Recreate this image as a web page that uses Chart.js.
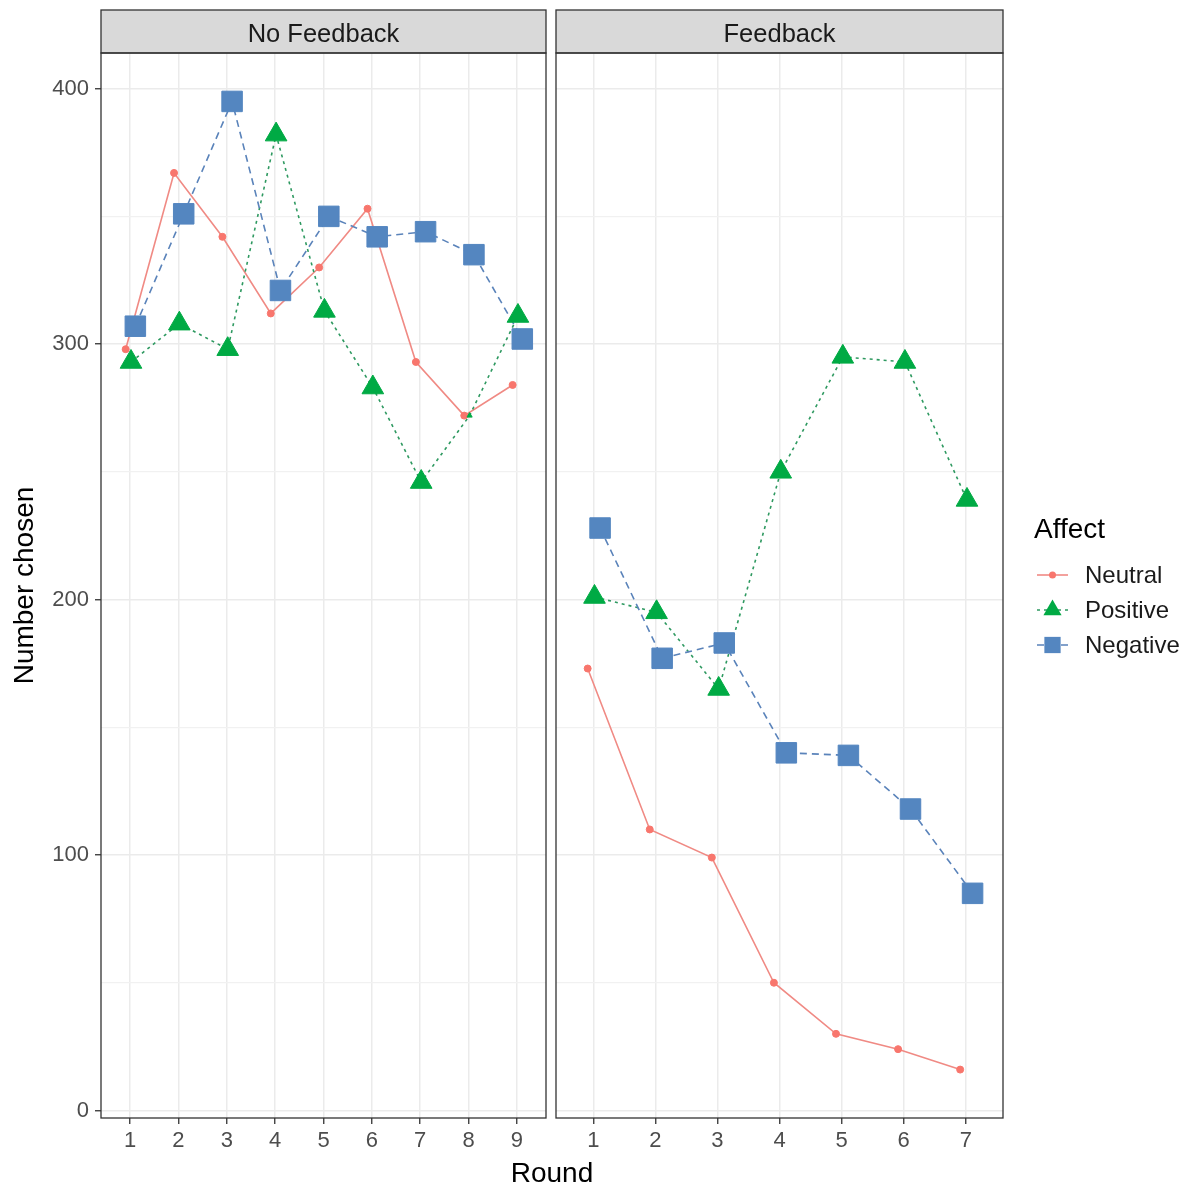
<!DOCTYPE html>
<html><head><meta charset="utf-8">
<script src="https://cdn.jsdelivr.net/npm/chart.js@4/dist/chart.umd.min.js"></script>
<style>
html,body{margin:0;padding:0;background:#fff;}
#wrap{position:relative;width:1186px;height:1185px;overflow:hidden;font-family:"Liberation Sans",Arial,sans-serif;}
#c1{position:absolute;left:0;top:0;}
#c2{position:absolute;left:552px;top:0;}
#xt{position:absolute;left:0;width:1104px;text-align:center;top:1159px;font-size:28px;line-height:28px;color:#000;}
</style></head>
<body><div id="wrap">
<canvas id="c1" width="552" height="1185"></canvas>
<canvas id="c2" width="634" height="1185"></canvas>
<div id="xt">Round</div>
</div>
<script>
// ---- data ----
const affects = ['Neutral', 'Positive', 'Negative'];
const panels = ['No Feedback', 'Feedback'];
const roundsNoFeedback = [1, 2, 3, 4, 5, 6, 7, 8, 9];
const roundsFeedback = [1, 2, 3, 4, 5, 6, 7];
const noFbNeutral  = [298, 367, 342, 312, 330, 353, 293, 272, 284];
const noFbPositive = [293, 308, 298, 382, 313, 283, 246, 272, 311];
const noFbNegative = [307, 351, 395, 321, 350, 342, 344, 335, 302];
const fbNeutral  = [173, 110, 99, 50, 30, 24, 16];
const fbPositive = [201, 195, 165, 250, 295, 293, 239];
const fbNegative = [228, 177, 183, 140, 139, 118, 85];
const yTickValues = [0, 100, 200, 300, 400];

// ---- styles ----
const FONT = '"Liberation Sans", Arial, sans-serif';
const style = {
  Neutral:  {point: '#F8766D', line: '#F08A84', dash: [], shape: 'circle', r: 3.5, lr: 3.5, dodge: -0.09},
  Positive: {point: '#00AA44', line: '#2E9960', dash: [3, 4], shape: 'triangle', r: 12.5, lr: 10.5, dodge: 0.02},
  Negative: {point: '#5486C0', line: '#5A83BA', dash: [7, 5], shape: 'rect', r: 14.5, lr: 11.5, dodge: 0.11}
};

const all = [].concat(noFbNeutral, noFbPositive, noFbNegative, fbNeutral, fbPositive, fbNegative);
const lo = Math.min(...all), hi = Math.max(...all);
const pad = 0.05 * (hi - lo);
const yMin = lo - pad, yMax = hi + pad;

function series(rounds, values, affect) {
  return rounds.map((r, i) => ({x: r + style[affect].dodge, y: values[i]}));
}

function buildDatasets(rounds, sets, isLeft) {
  const ds = [];
  affects.forEach((a, k) => {
    const s = style[a];
    ds.push({
      label: a + ' line', data: series(rounds, sets[k], a),
      borderColor: s.line, borderWidth: 1.6, borderDash: s.dash,
      pointRadius: 0, pointHoverRadius: 0, tension: 0, order: 6 - k
    });
  });
  affects.forEach((a, k) => {
    const s = style[a];
    ds.push({
      label: a, data: series(rounds, sets[k], a), showLine: false,
      backgroundColor: s.point, borderColor: s.point, pointBackgroundColor: s.point,
      pointBorderColor: s.point, pointBorderWidth: 1, pointStyle: s.shape,
      pointRadius: (ctx) => (isLeft && a === 'Positive' && ctx.dataIndex === 7) ? 3 : s.r,
      order: 3 - k
    });
  });
  return ds;
}

const panelPlugin = {
  id: 'panel',
  afterDraw(chart, args, opts) {
    const {ctx, chartArea: ca} = chart;
    ctx.save();
    ctx.fillStyle = '#D9D9D9';
    ctx.fillRect(ca.left, 10, ca.right - ca.left, ca.top - 10);
    ctx.strokeStyle = '#333333';
    ctx.lineWidth = 1.3;
    ctx.strokeRect(ca.left, 10, ca.right - ca.left, ca.top - 10);
    ctx.fillStyle = '#1A1A1A';
    ctx.font = '25.5px ' + FONT;
    ctx.textAlign = 'center';
    ctx.textBaseline = 'middle';
    ctx.fillText(opts.title, (ca.left + ca.right) / 2, 35);
    ctx.strokeRect(ca.left, ca.top, ca.right - ca.left, ca.bottom - ca.top);
    ctx.restore();
  }
};

function drawShape(ctx, shape, x, y, r, color) {
  ctx.fillStyle = color;
  ctx.beginPath();
  if (shape === 'circle') {
    ctx.arc(x, y, r, 0, Math.PI * 2);
  } else if (shape === 'triangle') {
    for (let i = 0; i < 3; i++) {
      const a = i * 2 * Math.PI / 3;
      const px = x + Math.sin(a) * r, py = y - Math.cos(a) * r;
      if (i === 0) ctx.moveTo(px, py); else ctx.lineTo(px, py);
    }
    ctx.closePath();
  } else {
    const s = Math.SQRT1_2 * r;
    ctx.rect(x - s, y - s, 2 * s, 2 * s);
  }
  ctx.fill();
}

const legendPlugin = {
  id: 'affectLegend',
  afterDraw(chart, args, opts) {
    const ctx = chart.ctx;
    const ox = opts.x, oy = opts.y;
    ctx.save();
    ctx.fillStyle = '#000';
    ctx.font = '28px ' + FONT;
    ctx.textBaseline = 'middle';
    ctx.textAlign = 'left';
    ctx.fillText('Affect', ox - 3, oy);
    affects.forEach((a, i) => {
      const s = style[a];
      const y = oy + 45 + 35 * i;
      ctx.strokeStyle = s.line;
      ctx.lineWidth = 1.6;
      ctx.setLineDash(s.dash);
      ctx.beginPath();
      ctx.moveTo(ox, y); ctx.lineTo(ox + 31, y); ctx.stroke();
      ctx.setLineDash([]);
      drawShape(ctx, s.shape, ox + 15.5, y, s.lr, s.point);
      ctx.fillStyle = '#1A1A1A';
      ctx.font = '24px ' + FONT;
      ctx.fillText(a, ox + 48, y + 1);
    });
    ctx.restore();
  }
};

function makeChart(canvasId, rounds, sets, isLeft) {
  const nCat = rounds.length;
  return new Chart(document.getElementById(canvasId), {
    type: 'line',
    data: {datasets: buildDatasets(rounds, sets, isLeft)},
    plugins: isLeft ? [panelPlugin] : [panelPlugin, legendPlugin],
    options: {
      responsive: false,
      animation: false,
      events: [],
      layout: {autoPadding: false,
               padding: isLeft ? {left: 0, right: 6, top: 53, bottom: 0} : {left: 4, right: 183, top: 53, bottom: 0}},
      plugins: {
        legend: {display: false},
        tooltip: {enabled: false},
        panel: {title: isLeft ? panels[0] : panels[1]},
        affectLegend: {x: 1037 - 552, y: 530}
      },
      scales: {
        x: {
          type: 'linear', min: 0.4, max: nCat + 0.6,
          afterFit(scale) { scale.height = 67; scale.paddingLeft = 0; scale.paddingRight = 0; },
          afterBuildTicks(scale) { scale.ticks = rounds.map(r => ({value: r})); },
          ticks: {stepSize: 1, includeBounds: false, autoSkip: false, maxRotation: 0,
                  color: '#4D4D4D', font: {family: FONT, size: 22}, padding: 4,
                  callback: v => String(v)},
          grid: {color: '#EBEBEB', lineWidth: 1.5, tickColor: '#333333', tickWidth: 1.3, tickLength: 6},
          border: {display: false}
        },
        y: {
          type: 'linear', min: yMin, max: yMax,
          afterFit(scale) { scale.width = isLeft ? 101 : 0; scale.paddingTop = 0; scale.paddingBottom = 0; },
          afterBuildTicks(scale) {
            const t = [];
            for (let v = yTickValues[0]; v <= yTickValues[yTickValues.length - 1]; v += 50) t.push({value: v});
            scale.ticks = t;
          },
          ticks: {display: isLeft, autoSkip: false, color: '#4D4D4D', font: {family: FONT, size: 22}, padding: 6,
                  callback: v => yTickValues.includes(v) ? String(v) : ''},
          title: {display: isLeft, text: 'Number chosen', color: '#000', font: {family: FONT, size: 28}, padding: {top: 8, bottom: 0}},
          grid: {
            color: c => yTickValues.includes(c.tick.value) ? '#EBEBEB' : '#F1F1F1',
            lineWidth: c => yTickValues.includes(c.tick.value) ? 1.5 : 1.3,
            tickColor: c => yTickValues.includes(c.tick.value) ? '#333333' : 'rgba(0,0,0,0)',
            tickWidth: 1.3, tickLength: 6, drawTicks: isLeft
          },
          border: {display: false}
        }
      }
    }
  });
}

makeChart('c1', roundsNoFeedback, [noFbNeutral, noFbPositive, noFbNegative], true);
makeChart('c2', roundsFeedback, [fbNeutral, fbPositive, fbNegative], false);
</script>
</body></html>
